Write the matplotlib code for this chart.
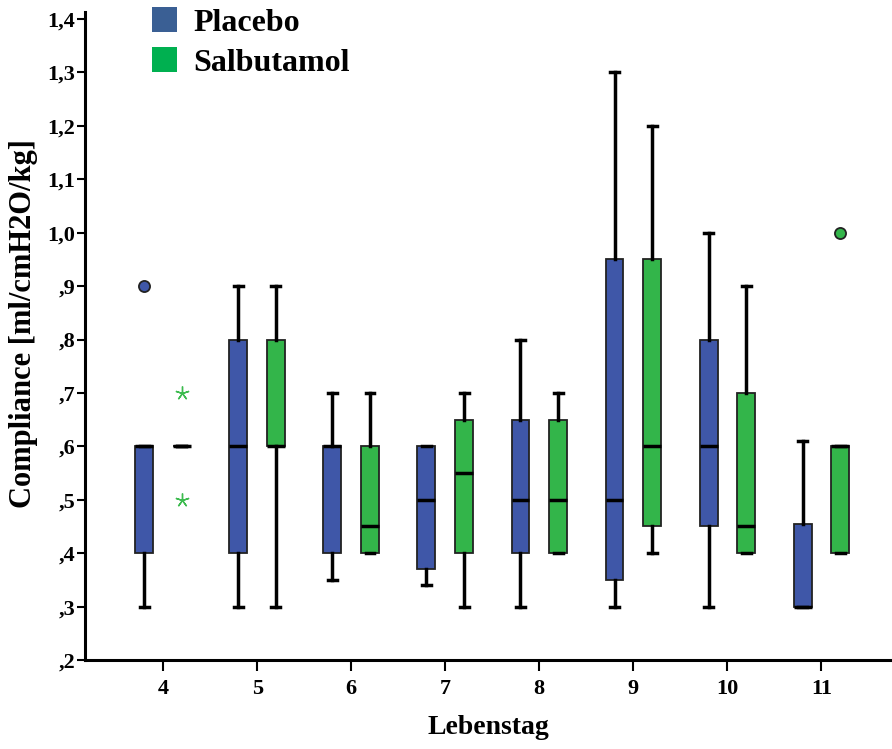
import matplotlib.pyplot as plt
from matplotlib.patches import Patch
from matplotlib.ticker import FuncFormatter

# Compliance per Lebenstag, box statistics
days = [4, 5, 6, 7, 8, 9, 10, 11]

placebo_lo  = [0.30, 0.30, 0.35, 0.34, 0.30, 0.30, 0.30, 0.30]
placebo_q1  = [0.40, 0.40, 0.40, 0.37, 0.40, 0.35, 0.45, 0.30]
placebo_med = [0.60, 0.60, 0.60, 0.50, 0.50, 0.50, 0.60, 0.30]
placebo_q3  = [0.60, 0.80, 0.60, 0.60, 0.65, 0.95, 0.80, 0.455]
placebo_hi  = [0.60, 0.90, 0.70, 0.60, 0.80, 1.30, 1.00, 0.61]
placebo_out = [[0.90], [], [], [], [], [], [], []]

salbu_lo  = [0.60, 0.30, 0.40, 0.30, 0.40, 0.40, 0.40, 0.40]
salbu_q1  = [0.60, 0.60, 0.40, 0.40, 0.40, 0.45, 0.40, 0.40]
salbu_med = [0.60, 0.60, 0.45, 0.55, 0.50, 0.60, 0.45, 0.60]
salbu_q3  = [0.60, 0.80, 0.60, 0.65, 0.65, 0.95, 0.70, 0.60]
salbu_hi  = [0.60, 0.90, 0.70, 0.70, 0.70, 1.20, 0.90, 0.60]
salbu_out = [[], [], [], [], [], [], [], [1.00]]
# extreme values (asterisks)
salbu_extreme_day = [4, 4]
salbu_extreme_val = [0.70, 0.50]

blue = '#3f57a8'
green = '#33b54a'
serif = 'Liberation Serif'


def make_stats(lo, q1, med, q3, hi, out):
    stats = []
    for i in range(len(lo)):
        stats.append({'whislo': lo[i], 'q1': q1[i], 'med': med[i],
                      'q3': q3[i], 'whishi': hi[i], 'fliers': out[i]})
    return stats


fig = plt.figure(figsize=(8.92, 7.49), dpi=100)
ax = fig.add_axes([0.0953, 0.1188, 0.9047, 0.865])

offset = 0.2
groups = [
    (make_stats(placebo_lo, placebo_q1, placebo_med, placebo_q3, placebo_hi, placebo_out), -offset, blue),
    (make_stats(salbu_lo, salbu_q1, salbu_med, salbu_q3, salbu_hi, salbu_out), offset, green),
]
for stats, off, col in groups:
    ax.bxp(stats, positions=[d + off for d in days], widths=0.19,
           capwidths=0.095, patch_artist=True, manage_ticks=False,
           boxprops=dict(facecolor=col, edgecolor='#222222', linewidth=1.3),
           medianprops=dict(color='black', linewidth=2.5),
           whiskerprops=dict(color='black', linewidth=2.5),
           capprops=dict(color='black', linewidth=2.5),
           flierprops=dict(marker='o', markerfacecolor=col, markeredgecolor='#222222',
                           markersize=8, markeredgewidth=1.3))

# 5-armed asterisk for extreme values
ax.plot([d + offset for d in salbu_extreme_day], salbu_extreme_val, linestyle='none',
        marker=(5, 2, 0), color='#3dbb4f', markersize=10, markeredgewidth=1.0)

ax.set_xlim(3.17, 11.75)
ax.set_ylim(0.2, 1.413)
ax.set_xticks(days)
ax.set_yticks([0.2 + 0.1 * i for i in range(13)])
ax.yaxis.set_major_formatter(FuncFormatter(lambda v, p: f'{v:.1f}'.lstrip('0').replace('.', ',')))

for s in ['top', 'right']:
    ax.spines[s].set_visible(False)
for s in ['left', 'bottom']:
    ax.spines[s].set_linewidth(2.2)
ax.tick_params(axis='y', direction='out', length=6, width=1.5, pad=1)
ax.tick_params(axis='x', direction='out', length=8, width=1.5, pad=6)
for lab in ax.get_xticklabels() + ax.get_yticklabels():
    lab.set_fontfamily(serif)
    lab.set_fontweight('bold')
    lab.set_fontsize(16)

ax.set_xlabel('Lebenstag', fontfamily=serif, fontweight='bold', fontsize=20, labelpad=11)
ax.set_ylabel('Compliance [ml/cmH2O/kg]', fontfamily=serif, fontweight='bold', fontsize=22)
ax.yaxis.set_label_coords(-0.058, 0.52)

handles = [Patch(facecolor='#3a5f94', edgecolor='none'),
           Patch(facecolor='#00b050', edgecolor='none')]
leg = fig.legend(handles, ['Placebo', 'Salbutamol'], loc='upper left',
                 bbox_to_anchor=(0.145, 1.02), frameon=False,
                 prop=dict(family=serif, weight='bold', size=23),
                 handlelength=0.8, handleheight=0.8, handletextpad=0.5,
                 labelspacing=0.3, borderpad=0.2)

fig.savefig('out.png', dpi=100)
